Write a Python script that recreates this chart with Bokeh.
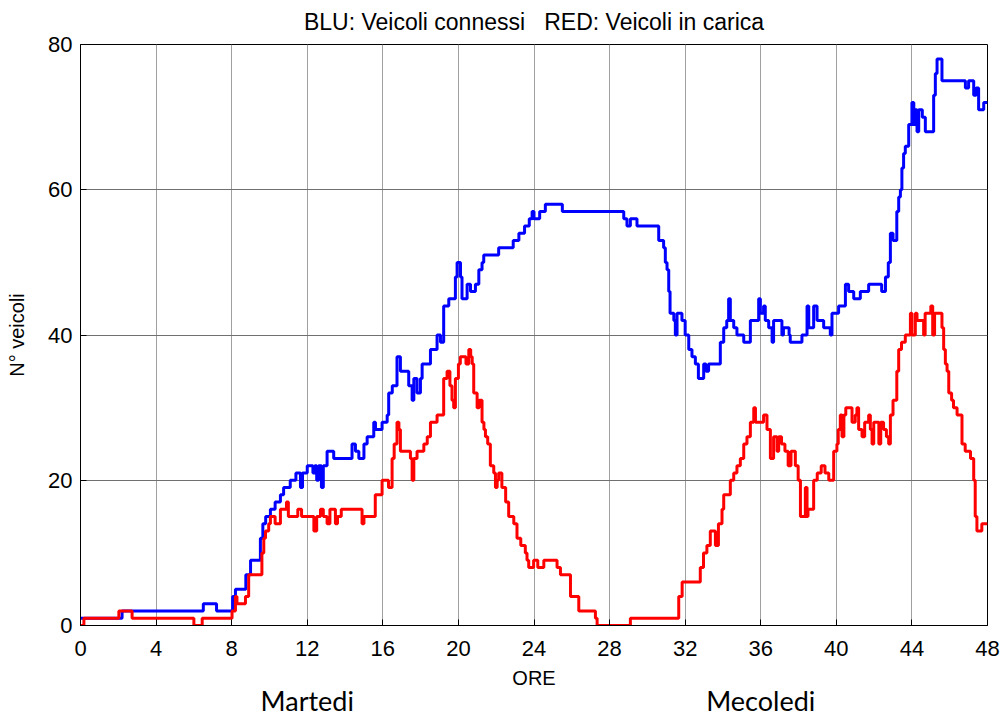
from bokeh.plotting import figure
from bokeh.models import Range1d, FixedTicker, LinearAxis
from bokeh.embed import file_html
from bokeh.resources import INLINE

# ---- data ----
ore_blu = [0, 2.2, 6.5, 7.2, 8.05, 8.2, 8.75, 9.0, 9.52, 9.65, 9.8, 10.05, 10.3, 10.58, 10.75,
           11.1, 11.4, 11.64, 11.75, 12.0, 12.3, 12.4, 12.5, 12.6, 12.75, 12.85, 13.05, 13.4,
           14.37, 14.55, 14.73, 15.0, 15.17, 15.52, 15.61, 15.96, 16.23, 16.31, 16.5, 16.75,
           16.93, 17.37, 17.55, 17.64, 17.81, 17.99, 18.08, 18.52, 18.87, 19.05, 19.22, 19.49,
           19.84, 19.93, 20.11, 20.19, 20.46, 20.64, 20.9, 21.08, 21.25, 21.34, 22.13, 22.9,
           23.2, 23.5, 23.75, 23.9, 24.0, 24.3, 24.6, 25.5, 28.75, 28.92, 29.1, 29.45, 30.6,
           30.86, 30.95, 31.04, 31.13, 31.2, 31.4, 31.48, 31.57, 31.83, 32.0, 32.19, 32.36,
           32.54, 32.7, 32.98, 33.1, 33.24, 33.86, 34.04, 34.2, 34.3, 34.39, 34.57, 34.74,
           35.1, 35.45, 35.89, 35.98, 36.15, 36.24, 36.42, 36.6, 36.68, 37.12, 37.2, 37.5,
           37.56, 38.18, 38.45, 38.54, 38.8, 38.98, 39.33, 39.68, 39.77, 40.12, 40.48, 40.65,
           40.92, 41.27, 41.71, 42.15, 42.4, 42.6, 42.75, 42.86, 43.0, 43.2, 43.3, 43.39,
           43.47, 43.56, 43.65, 43.83, 44.0, 44.1, 44.18, 44.27, 44.36, 44.55, 44.71, 45.15,
           45.24, 45.33, 45.59, 45.68, 46.83, 47.0, 47.27, 47.4, 47.53, 47.8, 48.0]
veicoli_connessi = [1, 2, 3, 2, 4, 5, 7, 9, 12, 14, 15, 16, 17, 18, 19,
                    20, 21, 19, 21, 22, 21, 22, 20, 22, 19, 22, 24, 23,
                    25, 24, 23, 25, 26, 28, 27, 28, 29, 32, 33, 37,
                    35, 33, 31, 34, 32, 34, 36, 38, 40, 39, 44, 45,
                    48, 50, 48, 45, 47, 46, 47, 49, 50, 51, 52, 53,
                    54, 55, 56, 57, 56, 57, 58, 57, 56, 55, 56, 55, 53,
                    52, 50, 49, 46, 43, 42, 40, 43, 42, 40, 38, 37,
                    36, 34, 36, 35, 36, 39, 41, 42, 45, 42, 41, 40,
                    39, 42, 45, 43, 44, 42, 41, 39, 42, 40, 41, 40,
                    39, 40, 44, 41, 44, 42, 41, 40, 43, 44, 47, 46,
                    45, 46, 47, 47, 46, 48, 50, 54, 53, 57, 59, 60,
                    63, 65, 66, 69, 72, 69, 71, 68, 71, 70, 68, 73,
                    76, 78, 75, 75, 74, 75, 73, 74, 71, 72, 72]

ore_red = [0, 0.18, 2.03, 2.73, 6.0, 6.44, 8.02, 8.2, 8.28, 8.73, 8.9, 9.6, 9.7, 9.79, 9.96,
           10.05, 10.3, 10.58, 10.9, 11.0, 11.5, 11.7, 12.35, 12.5, 12.7, 12.85, 13.05, 13.2,
           13.49, 13.6, 13.8, 14.9, 15.0, 15.6, 15.96, 16.3, 16.49, 16.6, 16.75, 16.85, 16.93,
           17.46, 17.55, 17.64, 17.81, 18.17, 18.35, 18.52, 18.87, 19.22, 19.4, 19.55, 19.66,
           19.75, 19.84, 20.0, 20.1, 20.4, 20.55, 20.65, 20.73, 20.81, 20.99, 21.1, 21.25,
           21.35, 21.43, 21.55, 21.69, 21.87, 21.96, 22.05, 22.13, 22.3, 22.5, 22.66, 22.93,
           23.1, 23.3, 23.54, 23.63, 23.72, 23.98, 24.2, 24.52, 25.22, 25.4, 25.93, 26.37,
           27.25, 27.34, 29.1, 31.66, 31.84, 32.8, 32.97, 33.15, 33.33, 33.6, 33.76, 33.95,
           34.04, 34.39, 34.57, 34.74, 34.92, 35.1, 35.27, 35.45, 35.63, 35.72, 36.15, 36.33,
           36.51, 36.68, 36.86, 36.95, 37.1, 37.28, 37.45, 37.6, 37.83, 37.98, 38.1, 38.36,
           38.45, 38.5, 38.8, 38.99, 39.2, 39.4, 39.6, 39.86, 40.03, 40.1, 40.21, 40.3, 40.4,
           40.5, 40.83, 41.0, 41.09, 41.18, 41.36, 41.5, 41.71, 41.8, 41.89, 41.98, 42.25,
           42.35, 42.5, 42.65, 42.77, 42.86, 43.0, 43.2, 43.3, 43.45, 43.65, 43.92, 44.0,
           44.18, 44.27, 44.62, 44.7, 45.0, 45.1, 45.2, 45.59, 45.68, 45.77, 45.86, 45.95,
           46.1, 46.2, 46.39, 46.65, 46.82, 47.1, 47.27, 47.35, 47.44, 47.7, 48.0]
veicoli_in_carica = [0, 1, 2, 1, 0, 1, 2, 4, 3, 4, 7, 10, 12, 13, 14,
                     15, 14, 16, 17, 15, 16, 15, 13, 15, 16, 15, 14, 16,
                     14, 15, 16, 14, 15, 18, 20, 19, 23, 25, 28, 27, 24,
                     23, 20, 23, 24, 25, 26, 28, 29, 34, 35, 33, 31,
                     30, 34, 36, 37, 36, 38, 37, 36, 32, 30, 31, 28,
                     27, 26, 25, 22, 21, 19, 20, 21, 19, 17, 15, 14,
                     12, 11, 10, 9, 8, 9, 8, 9, 8, 7, 4, 2,
                     1, 0, 1, 4, 6, 8, 10, 11, 13, 11, 14, 16,
                     18, 20, 21, 22, 23, 25, 26, 28, 30, 28, 29, 27,
                     23, 26, 24, 26, 25, 24, 22, 24, 22, 20, 15, 19,
                     15, 16, 20, 21, 22, 21, 20, 24, 25, 27, 29, 26, 29,
                     30, 28, 29, 30, 27, 26, 28, 29, 27, 25, 28, 25,
                     28, 27, 26, 25, 29, 31, 35, 38, 39, 40, 43, 40,
                     43, 42, 40, 43, 44, 40, 43, 41, 38, 36, 35, 32,
                     31, 30, 29, 25, 24, 23, 20, 15, 13, 14, 14]

x_ticks = [0, 4, 8, 12, 16, 20, 24, 28, 32, 36, 40, 44, 48]
y_ticks = [0, 20, 40, 60, 80]
titolo = "BLU: Veicoli connessi\u00a0\u00a0\u00a0RED: Veicoli in carica"
etichetta_x = "ORE"
etichetta_y = "N° veicoli"
giorni = ["Martedi", "Mecoledi"]
giorni_ore = [12, 36]

FONT = "Liberation Sans"

p = figure(width=1000, height=719, output_backend="svg", toolbar_location=None,
           x_range=Range1d(0, 48), y_range=Range1d(0, 80),
           min_border_left=80, min_border_right=13, min_border_top=42, min_border_bottom=94)
p.background_fill_color = "white"
p.border_fill_color = "white"
p.outline_line_color = "black"
p.outline_line_width = 1

p.title.text = titolo
p.title.align = "center"
p.title.vertical_align = "top"
p.title.text_font = FONT
p.title.text_font_size = "23px"
p.title.text_font_style = "normal"
p.title.text_color = "black"
p.title.standoff = 16

for ax in (p.xaxis[0], p.yaxis[0]):
    ax.major_tick_in = 6
    ax.major_tick_out = 0
    ax.minor_tick_line_color = None
    ax.axis_line_color = "black"
    ax.major_label_text_font = FONT
    ax.major_label_text_font_size = "22px"
    ax.major_label_text_color = "black"
    ax.axis_label_text_font = FONT
    ax.axis_label_text_font_size = "20px"
    ax.axis_label_text_font_style = "normal"
    ax.axis_label_text_color = "black"
p.xaxis.ticker = FixedTicker(ticks=x_ticks)
p.yaxis.ticker = FixedTicker(ticks=y_ticks)
p.xaxis.axis_label = etichetta_x
p.yaxis.axis_label = etichetta_y
p.xaxis[0].major_label_standoff = 15
p.yaxis[0].major_label_standoff = 8
p.xaxis[0].axis_label_standoff = 8
p.yaxis[0].axis_label_standoff = 17

# second axis below carrying the day names
giorni_axis = LinearAxis(ticker=FixedTicker(ticks=giorni_ore),
                         major_label_overrides={h: g for h, g in zip(giorni_ore, giorni)},
                         major_tick_in=0, major_tick_out=0, minor_tick_line_color=None,
                         axis_line_color=None, major_label_standoff=-8,
                         major_label_text_font="Lato", major_label_text_font_size="27px",
                         major_label_text_color="black")
p.add_layout(giorni_axis, "below")

p.xgrid.grid_line_color = "#a0a0a0"
p.ygrid.grid_line_color = "#707070"
p.xgrid.grid_line_width = 1
p.ygrid.grid_line_width = 1

p.step(ore_blu, veicoli_connessi, mode="after", line_color="#0000ff", line_width=3)
p.step(ore_red, veicoli_in_carica, mode="after", line_color="#ff0000", line_width=3)

open("out.html", "w").write(file_html(p, INLINE))
